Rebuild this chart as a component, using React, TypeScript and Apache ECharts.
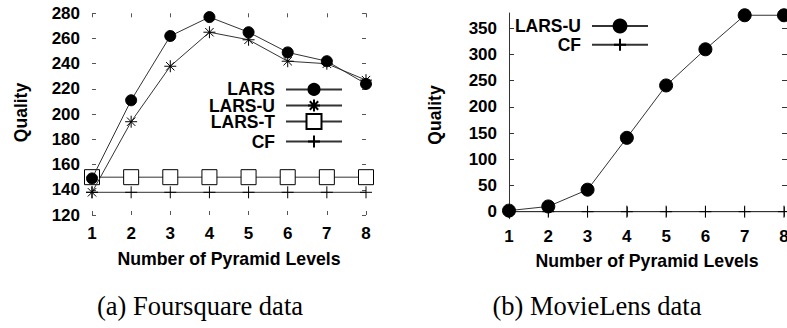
import React, { useEffect, useRef } from "react";
import * as echarts from "echarts";

// ---- data ----
const levels = [1, 2, 3, 4, 5, 6, 7, 8];
const fsLARS = [149, 211, 262, 277, 265, 249, 242, 224];
const fsLARSU = [138, 194, 238, 265, 259, 242, 240, 227];
const fsLARST = [150, 150, 150, 150, 150, 150, 150, 150];
const fsCF = [138, 138, 138, 138, 138, 138, 138, 138];
const mlLARSU = [2, 10, 42, 141, 241, 310, 375, 375];
const mlCF = [0, 0, 0, 0, 0, 0, 0, 0];
const mlYTicks = [0, 50, 100, 150, 200, 250, 300, 350];

const SANS = "'Liberation Sans', Arial, Helvetica, sans-serif";
const SERIF = "'Liberation Serif', 'Times New Roman', serif";
const STAR = "path://M6 0 L6 12 M0 6 L12 6 M1.8 1.8 L10.2 10.2 M1.8 10.2 L10.2 1.8";
const PLUS = "path://M5 0 L5 10 M0 5 L10 5";

const pairs = (ys: number[]) => levels.map((x, i) => [x, ys[i]]);

const labelStyle = { fontSize: 17, fontWeight: "bold" as const, color: "#000", fontFamily: SANS };

function legendFor(name: string, right: number, top: number, h: number) {
  return {
    data: [name],
    orient: "vertical",
    right,
    top,
    padding: 0,
    align: "right",
    itemWidth: 56,
    itemHeight: h,
    selectedMode: false,
    textStyle: { ...labelStyle, fontSize: 17.5, lineHeight: 14, padding: [0, 6, 0, 0] },
  };
}

function lineSeries(name: string, data: number[], symbol: string, size: number, fill: string, z = 2) {
  return {
    type: "line",
    name,
    data: pairs(data),
    symbol,
    symbolSize: size,
    showSymbol: true,
    z,
    lineStyle: { color: "#333", width: 1 },
    itemStyle: { color: fill, borderColor: "#000", borderWidth: 1, opacity: 1 },
  };
}

function buildLeft() {
  const tick = { show: true, inside: true, length: 4, lineStyle: { color: "#555", width: 1 } };
  const common = { type: "value", splitLine: { show: false }, axisLine: { show: false } };
  return {
    animation: false,
    grid: { left: 92, top: 13.3, width: 274, height: 201.7 },
    xAxis: [
      { ...common, min: 1, max: 8, interval: 1, position: "bottom", axisTick: tick, axisLabel: { ...labelStyle, margin: 10 } },
      { ...common, min: 1, max: 8, interval: 1, position: "top", axisTick: tick, axisLabel: { show: false } },
    ],
    yAxis: [
      { ...common, min: 120, max: 280, interval: 20, position: "left", axisTick: tick, axisLabel: { ...labelStyle, margin: 12 } },
      { ...common, min: 120, max: 280, interval: 20, position: "right", axisTick: tick, axisLabel: { show: false } },
    ],
    legend: [
      legendFor("LARS", 57, 80.4, 13.75),
      legendFor("LARS-U", 57, 96.5, 15),
      legendFor("LARS-T", 57, 112.6, 18.75),
      legendFor("CF", 57, 132.5, 15),
    ],
    series: [
      lineSeries("CF", fsCF, PLUS, 12, "#000", 2),
      lineSeries("LARS-T", fsLARST, "rect", 15, "#fff", 3),
      lineSeries("LARS-U", fsLARSU, STAR, 12, "#000", 4),
      lineSeries("LARS", fsLARS, "circle", 11, "#000", 5),
    ],
    graphic: [
      { type: "text", x: 21, y: 112.5, rotation: Math.PI / 2, style: { text: "Quality", font: `bold 17.5px ${SANS}`, fill: "#000", align: "center", verticalAlign: "middle" } },
      { type: "text", x: 229, y: 259, style: { text: "Number of Pyramid Levels", font: `bold 17.7px ${SANS}`, fill: "#000", align: "center", verticalAlign: "middle" } },
      { type: "text", x: 200, y: 306, style: { text: "(a) Foursquare data", font: `26.5px ${SERIF}`, fill: "#000", align: "center", verticalAlign: "middle" } },
    ],
  };
}

function buildRight() {
  const tick = { show: true, inside: true, length: 5, lineStyle: { color: "#333", width: 1 } };
  const line = { show: true, lineStyle: { color: "#333", width: 1 } };
  const common = { type: "value", splitLine: { show: false }, axisLine: line };
  const xmin = 1, xmax = 8.077, ymin = -13.4, ymax = 379.3;
  return {
    animation: false,
    grid: { left: 109, top: 13, width: 278, height: 205.7 },
    xAxis: [
      { ...common, min: xmin, max: xmax, interval: 1, position: "bottom", axisTick: tick, axisLabel: { ...labelStyle, margin: 9 } },
      { ...common, min: xmin, max: xmax, interval: 1, position: "top", axisTick: tick, axisLabel: { show: false } },
    ],
    yAxis: [
      { ...common, min: ymin, max: ymax, position: "left", axisTick: { ...tick, customValues: mlYTicks }, axisLabel: { ...labelStyle, margin: 12, customValues: mlYTicks } },
      { ...common, min: ymin, max: ymax, position: "right", axisTick: { ...tick, customValues: mlYTicks }, axisLabel: { show: false, customValues: mlYTicks } },
    ],
    legend: [
      legendFor("LARS-U", 151, 17, 16),
      legendFor("CF", 151, 35.8, 15),
    ],
    series: [
      lineSeries("CF", mlCF, PLUS, 12, "#000", 2),
      lineSeries("LARS-U", mlLARSU, "circle", 13, "#000", 3),
    ],
    graphic: [
      { type: "text", x: 35, y: 115, rotation: Math.PI / 2, style: { text: "Quality", font: `bold 17.5px ${SANS}`, fill: "#000", align: "center", verticalAlign: "middle" } },
      { type: "text", x: 247, y: 261, style: { text: "Number of Pyramid Levels", font: `bold 17.7px ${SANS}`, fill: "#000", align: "center", verticalAlign: "middle" } },
      { type: "text", x: 197, y: 306, style: { text: "(b) MovieLens data", font: `26.5px ${SERIF}`, fill: "#000", align: "center", verticalAlign: "middle" } },
    ],
  };
}

export default function App() {
  const leftRef = useRef<HTMLDivElement>(null);
  const rightRef = useRef<HTMLDivElement>(null);
  useEffect(() => {
    const c1 = echarts.init(leftRef.current!, undefined, { renderer: "svg" });
    const c2 = echarts.init(rightRef.current!, undefined, { renderer: "svg" });
    c1.setOption(buildLeft() as any);
    c2.setOption(buildRight() as any);
    return () => {
      c1.dispose();
      c2.dispose();
    };
  }, []);
  return (
    <div style={{ position: "fixed", left: 0, top: 0, width: 787, height: 328, overflow: "hidden", background: "#fff" }}>
      <div ref={leftRef} style={{ position: "absolute", left: 0, top: 0, width: 400, height: 328 }} />
      <div ref={rightRef} style={{ position: "absolute", left: 400, top: 0, width: 400, height: 328 }} />
    </div>
  );
}
